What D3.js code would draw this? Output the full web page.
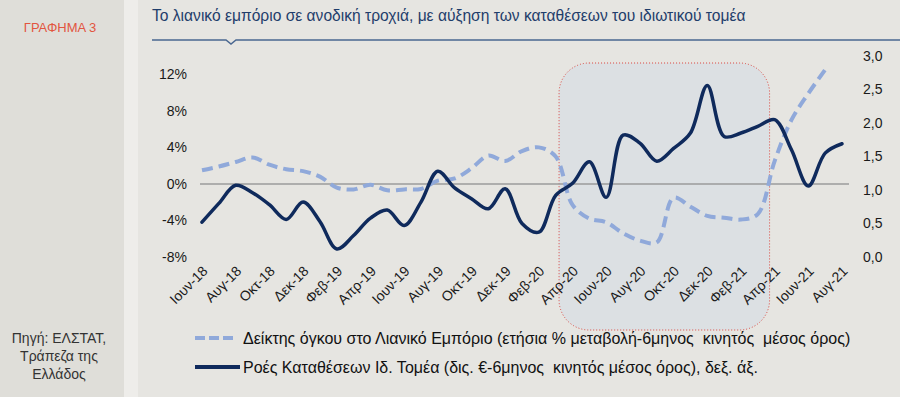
<!DOCTYPE html>
<html>
<head>
<meta charset="utf-8">
<script src="https://cdn.jsdelivr.net/npm/d3@7"></script>
<style>
  body { margin: 0; background: #e6e5e1; }
  text { font-family: "Liberation Sans", Arial, sans-serif; }
</style>
</head>
<body>
<script>
// categories: monthly, Ιουν-18 .. Αυγ-21
var months = [
  "Ιουν-18","Ιουλ-18","Αυγ-18","Σεπ-18","Οκτ-18","Νοε-18","Δεκ-18",
  "Ιαν-19","Φεβ-19","Μαρ-19","Απρ-19","Μαϊ-19","Ιουν-19","Ιουλ-19","Αυγ-19","Σεπ-19","Οκτ-19","Νοε-19","Δεκ-19",
  "Ιαν-20","Φεβ-20","Μαρ-20","Απρ-20","Μαϊ-20","Ιουν-20","Ιουλ-20","Αυγ-20","Σεπ-20","Οκτ-20","Νοε-20","Δεκ-20",
  "Ιαν-21","Φεβ-21","Μαρ-21","Απρ-21","Μαϊ-21","Ιουν-21","Ιουλ-21","Αυγ-21"
];

// retail trade volume index, yoy % (6m moving avg) - left axis
var retail = [
  1.5, 1.9, 2.4, 2.9, 2.1, 1.6, 1.4,
  0.8, -0.4, -0.6, -0.1, -0.7, -0.6, -0.55, 0.35, 0.6, 1.7, 3.1, 2.5,
  3.6, 4.0, 3.0, -2.3, -3.8, -4.2, -5.4, -6.2, -6.4, -1.5, -2.5, -3.5,
  -3.7, -3.9, -3.3, 2.5, 7.0, 9.9, 12.5, null
];

// private sector deposit flows, bn € (6m moving avg) - right axis
var deposits = [
  0.52, 0.80, 1.07, 0.96, 0.78, 0.56, 0.82,
  0.53, 0.12, 0.32, 0.58, 0.70, 0.47, 0.82, 1.28, 1.03, 0.87, 0.72, 1.02,
  0.50, 0.37, 0.92, 1.10, 1.42, 0.89, 1.82, 1.70, 1.43, 1.62, 1.85, 2.56,
  1.80, 1.85, 1.95, 2.05, 1.60, 1.06, 1.55, 1.69
];

var leftTicks = [-8, -4, 0, 4, 8, 12];
var rightTicks = [0, 0.5, 1, 1.5, 2, 2.5, 3];
var xTicks = months.filter(function(d, i) { return i % 2 === 0; });

var seriesNames = [
  "Δείκτης όγκου στο Λιανικό Εμπόριο (ετήσια % μεταβολή-6μηνος  κινητός  μέσος όρος)",
  "Ροές Καταθέσεων Ιδ. Τομέα (δις. €-6μηνος  κινητός μέσος όρος), δεξ. άξ."
];

// highlighted period (annotation box), in month index units
var highlight = {from: 21.2, to: 33.7};

var width = 900, height = 397;
var plot = {left: 202, right: 842, top: 56, bottom: 257};

var x = d3.scalePoint().domain(months).range([plot.left, plot.right]);
var xi = d3.scaleLinear().domain([0, months.length - 1]).range([plot.left, plot.right]);
var yL = d3.scaleLinear().domain([-8, 14]).range([plot.bottom, plot.top]);
var yR = d3.scaleLinear().domain([0, 3]).range([plot.bottom, plot.top]);

var grFormat = d3.formatLocale({decimal: ",", thousands: ".", grouping: [3], currency: ["", "€"]}).format(".1f");

var svg = d3.select("body").append("svg")
    .attr("width", width)
    .attr("height", height);

// backgrounds
svg.append("rect").attr("width", width).attr("height", height).attr("fill", "#e6e5e1");
svg.append("rect").attr("width", 124).attr("height", height).attr("fill", "#dfded9");
svg.append("rect").attr("x", 124).attr("width", 14).attr("height", height).attr("fill", "#eeedea");

// side panel texts
svg.append("text")
    .attr("x", 60).attr("y", 32)
    .attr("text-anchor", "middle")
    .style("font-size", "13px")
    .attr("fill", "#e2553f")
    .text("ΓΡΑΦΗΜΑ 3");

svg.append("g").selectAll("text")
    .data(["Πηγή: ΕΛΣΤΑΤ,", "Τράπεζα της", "Ελλάδος"])
    .join("text")
    .attr("x", 59)
    .attr("y", function(d, i) { return 343 + i * 18; })
    .attr("text-anchor", "middle")
    .style("font-size", "14px")
    .attr("fill", "#333")
    .text(function(d) { return d; });

// title + underline with notch
svg.append("text")
    .attr("x", 152).attr("y", 21)
    .style("font-size", "15.6px")
    .attr("fill", "#1f3d6b")
    .text("Το λιανικό εμπόριο σε ανοδική τροχιά, με αύξηση των καταθέσεων του ιδιωτικού τομέα");

svg.append("path")
    .attr("d", "M152,40H226L231,44L236,40H900")
    .attr("fill", "none")
    .attr("stroke", "#4a6790")
    .attr("stroke-width", 1.5);

// highlight box
svg.append("rect")
    .attr("x", xi(highlight.from))
    .attr("y", 63)
    .attr("width", xi(highlight.to) - xi(highlight.from))
    .attr("height", 267)
    .attr("rx", 30)
    .attr("fill", "#dce0e3")
    .attr("stroke", "#d9453f")
    .attr("stroke-width", 1)
    .attr("stroke-dasharray", "1,2");

// zero line
svg.append("line")
    .attr("x1", 200).attr("x2", 849)
    .attr("y1", yL(0)).attr("y2", yL(0))
    .attr("stroke", "#9b9b9b")
    .attr("stroke-width", 1.5);

// axes
var gLeft = svg.append("g")
    .attr("transform", "translate(187,0)")
    .call(d3.axisLeft(yL).tickValues(leftTicks).tickSize(0).tickPadding(0)
      .tickFormat(function(d) { return d + "%"; }));

var gRight = svg.append("g")
    .attr("transform", "translate(863,0)")
    .call(d3.axisRight(yR).tickValues(rightTicks).tickSize(0).tickPadding(0)
      .tickFormat(grFormat));

var gX = svg.append("g")
    .attr("transform", "translate(0," + plot.bottom + ")")
    .call(d3.axisBottom(x).tickValues(xTicks).tickSize(0));

[gLeft, gRight, gX].forEach(function(g) {
  g.select(".domain").remove();
  g.selectAll("text")
    .style("font-size", "14px")
    .style("font-family", "'Liberation Sans', Arial, sans-serif")
    .attr("fill", "#1a1a1a");
});

gX.selectAll("text")
    .attr("x", 0).attr("y", 0).attr("dy", null)
    .attr("text-anchor", "end")
    .attr("transform", "translate(6,15) rotate(-45)");

// lines
var lineL = d3.line()
    .defined(function(d) { return d != null; })
    .x(function(d, i) { return x(months[i]); })
    .y(function(d) { return yL(d); })
    .curve(d3.curveCatmullRom.alpha(0.5));

var lineR = d3.line()
    .x(function(d, i) { return x(months[i]); })
    .y(function(d) { return yR(d); })
    .curve(d3.curveCatmullRom.alpha(0.5));

svg.append("path")
    .datum(retail)
    .attr("fill", "none")
    .attr("stroke", "#90a9da")
    .attr("stroke-width", 4)
    .attr("stroke-dasharray", "11,6")
    .attr("d", lineL);

svg.append("path")
    .datum(deposits)
    .attr("fill", "none")
    .attr("stroke", "#0f2a5c")
    .attr("stroke-width", 3.5)
    .attr("stroke-linejoin", "round")
    .attr("stroke-linecap", "round")
    .attr("d", lineR);

// legend
var legend = svg.append("g");
legend.append("line")
    .attr("x1", 195).attr("x2", 236).attr("y1", 338).attr("y2", 338)
    .attr("stroke", "#90a9da").attr("stroke-width", 4).attr("stroke-dasharray", "10,4");
legend.append("line")
    .attr("x1", 195).attr("x2", 240).attr("y1", 367).attr("y2", 367)
    .attr("stroke", "#0f2a5c").attr("stroke-width", 4);
legend.selectAll("text")
    .data(seriesNames)
    .join("text")
    .attr("x", 243)
    .attr("y", function(d, i) { return 344 + i * 29; })
    .style("font-size", "16px")
    .style("white-space", "pre")
    .attr("fill", "#111")
    .text(function(d) { return d; });
</script>
</body>
</html>
